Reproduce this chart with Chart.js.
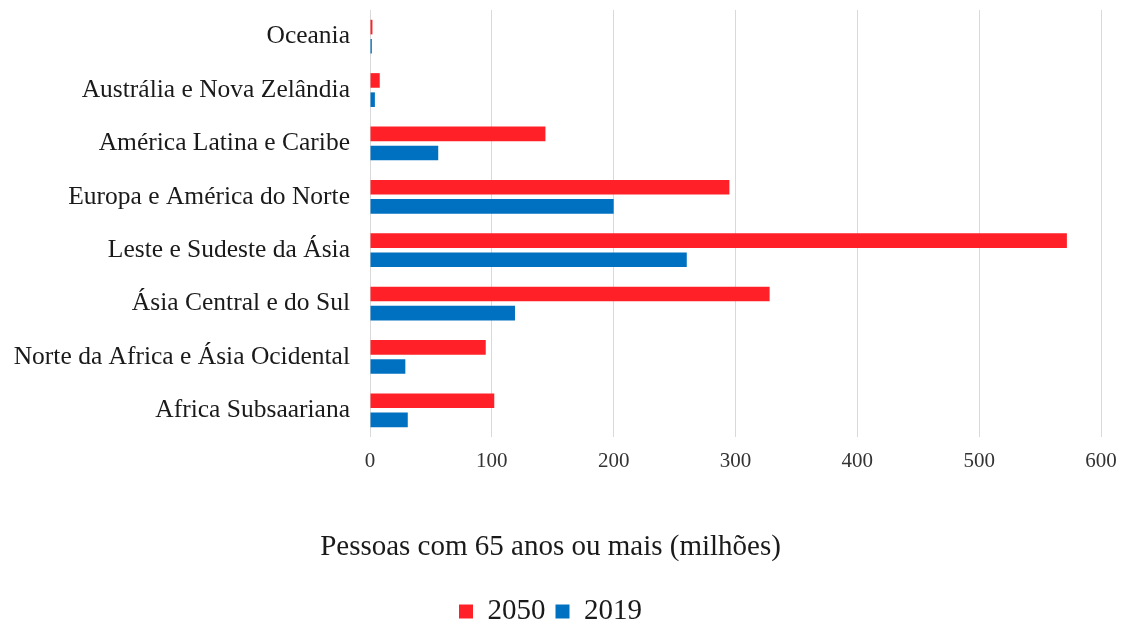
<!DOCTYPE html>
<html lang="pt">
<head>
<meta charset="utf-8">
<title>Pessoas com 65 anos ou mais</title>
<script src="https://cdn.jsdelivr.net/npm/chart.js@4/dist/chart.umd.min.js"></script>
<style>
    html, body { margin: 0; padding: 0; background: #fff; }
    #wrap { width: 1125px; height: 626px; position: relative; }
</style>
</head>
<body>
<div id="wrap"><canvas id="grafico"></canvas></div>
<script>
// Dados do gráfico (milhões de pessoas com 65 anos ou mais)
const regioes = [
    'Oceania',
    'Austrália e Nova Zelândia',
    'América Latina e Caribe',
    'Europa e América do Norte',
    'Leste e Sudeste da Ásia',
    'Ásia Central e do Sul',
    'Norte da Africa e Ásia Ocidental',
    'Africa Subsaariana'
];
const valores2050 = [2, 8, 144, 295, 572, 328, 95, 102];
const valores2019 = [1.5, 4, 56, 200, 260, 119, 29, 31];
const ticksX = [0, 100, 200, 300, 400, 500, 600];

const fonte = 'Liberation Serif, "Times New Roman", serif';

const ctx = document.getElementById('grafico').getContext('2d');
new Chart(ctx, {
    type: 'bar',
    data: {
        labels: regioes,
        datasets: [{
            label: '2050',
            data: valores2050,
            backgroundColor: '#ff2127',
            barPercentage: 0.76,
            categoryPercentage: 0.72
        }, {
            label: '2019',
            data: valores2019,
            backgroundColor: '#0070c0',
            barPercentage: 0.76,
            categoryPercentage: 0.72
        }]
    },
    options: {
        indexAxis: 'y',
        responsive: true,
        maintainAspectRatio: false,
        animation: false,
        layout: {
            padding: { top: 10, right: 24, left: 0, bottom: -10 }
        },
        scales: {
            x: {
                min: ticksX[0],
                max: ticksX[ticksX.length - 1],
                afterBuildTicks: (scale) => {
                    scale.ticks = ticksX.map(v => ({ value: v }));
                },
                afterFit: (scale) => {
                    // a margem da direita fica só com o padding do layout
                    scale.paddingRight = 0;
                },
                grid: { color: '#d9d9d9', lineWidth: 1, drawTicks: false },
                border: { display: false },
                ticks: {
                    color: '#333333',
                    font: { family: fonte, size: 21 },
                    padding: 12
                }
            },
            y: {
                grid: { display: false },
                border: { display: false },
                ticks: {
                    color: '#1a1a1a',
                    font: { family: fonte, size: 25.5 },
                    padding: 12
                },
                afterFit: (scale) => {
                    // largura fixa do eixo e sem folga extra em cima/baixo
                    scale.width = 370;
                    scale.paddingTop = 0;
                    scale.paddingBottom = 0;
                }
            }
        },
        plugins: {
            title: {
                display: true,
                position: 'bottom',
                weight: 500,
                text: 'Pessoas com 65 anos ou mais (milhões)',
                color: '#1a1a1a',
                font: { family: fonte, size: 29, weight: 'normal' },
                padding: { top: 44, bottom: 22 }
            },
            legend: {
                position: 'bottom',
                labels: {
                    color: '#1a1a1a',
                    font: { family: fonte, size: 29 },
                    boxWidth: 14,
                    boxHeight: 14,
                    padding: 10
                }
            },
            tooltip: { enabled: false }
        }
    }
});
</script>
</body>
</html>
